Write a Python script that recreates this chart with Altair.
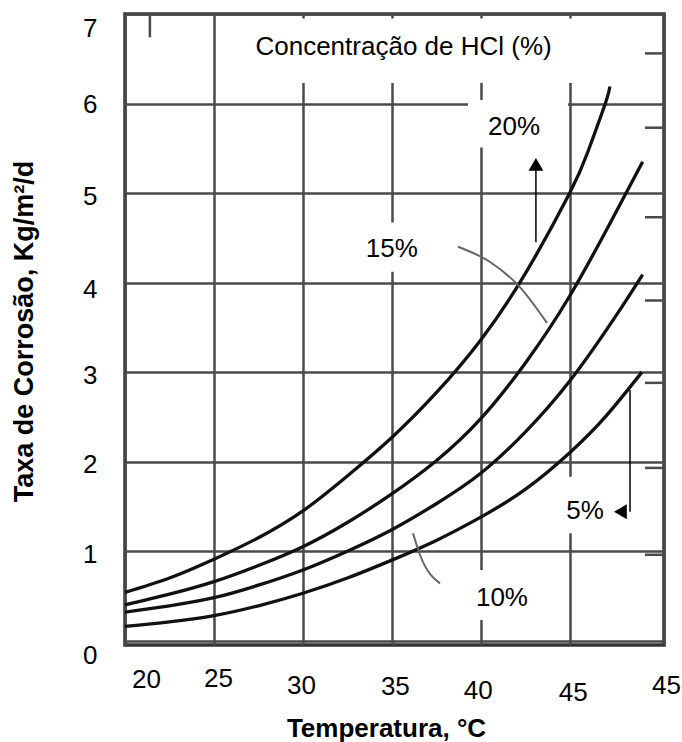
import altair as alt
import pandas as pd

# ---- curve data (Temperatura °C, Taxa de corrosão) ----
temps_20 = [20, 22.5, 25, 27.5, 30, 32.5, 35, 37.5, 40, 42.5, 45, 46, 47, 47.25]
rate_20 = [0.54, 0.70, 0.91, 1.15, 1.45, 1.84, 2.27, 2.77, 3.36, 4.10, 5.0, 5.45, 6.0, 6.19]
temps_15 = [20, 22.5, 25, 27.5, 30, 32.5, 35, 37.5, 40, 42.5, 45, 47.5, 49.1]
rate_15 = [0.40, 0.52, 0.66, 0.84, 1.05, 1.32, 1.64, 2.01, 2.48, 3.10, 3.85, 4.75, 5.35]
temps_10 = [20, 22.5, 25, 27.5, 30, 32.5, 35, 37.5, 40, 42.5, 45, 47.5, 49.1]
rate_10 = [0.32, 0.39, 0.48, 0.62, 0.79, 1.0, 1.24, 1.53, 1.87, 2.33, 2.90, 3.60, 4.09]
temps_5 = [20, 22.5, 25, 27.5, 30, 32.5, 35, 37.5, 40, 42.5, 45, 47, 49.06]
rate_5 = [0.16, 0.21, 0.28, 0.39, 0.53, 0.70, 0.90, 1.12, 1.38, 1.69, 2.10, 2.50, 3.0]

# ---- tick labels ----
x_tick_values = [20, 25, 30, 35, 40, 45, 50.3]
y_tick_values = [0, 1, 2, 3, 4, 5, 6, 7]

# ---- annotation texts and their anchor points (data units) ----
label_text = ["Concentração de HCl (%)", "20%", "15%", "10%", "5%"]
label_x = [35.66, 41.87, 35.0, 41.19, 45.86]
label_y = [6.63, 5.74, 4.37, 0.48, 1.45]

# white boxes behind the labels
box_x1 = [25.79, 39.28, 31.41, 38.55, 44.23]
box_x2 = [45.13, 44.9, 38.72, 44.85, 47.38]
box_y1 = [6.23, 5.51, 4.12, 0.23, 1.20]
box_y2 = [6.95, 6.04, 4.67, 0.79, 1.83]

# leader lines
leader15_x = [38.72, 40.52, 42.2, 43.72]
leader15_y = [4.40, 4.23, 3.95, 3.55]
leader10_x = [36.19, 36.58, 37.71]
leader10_y = [1.20, 0.96, 0.64]

# arrows
arrow_x = [43.1, 48.39]
arrow_y1 = [4.45, 2.80]
arrow_y2 = [5.26, 1.44]
head_x = [43.1, 47.85]
head_y = [5.32, 1.44]
head_shape = ["triangle-up", "triangle-left"]

# short scan tick marks on the frame
rtick_y = [6.56, 5.73, 4.73, 3.80, 2.88, 1.93, 0.96]
rtick_x1 = 49.23
rtick_x2 = 50.3

FONT = "Liberation Sans"
FS = 26

curves = pd.concat([
    pd.DataFrame({"T": temps_20, "v": rate_20, "s": "20%"}),
    pd.DataFrame({"T": temps_15, "v": rate_15, "s": "15%"}),
    pd.DataFrame({"T": temps_10, "v": rate_10, "s": "10%"}),
    pd.DataFrame({"T": temps_5, "v": rate_5, "s": "5%"}),
])
boxes = pd.DataFrame({"x1": box_x1, "x2": box_x2, "y1": box_y1, "y2": box_y2})
labels = pd.DataFrame({"t": label_text, "T": label_x, "v": label_y})
leaders = pd.concat([
    pd.DataFrame({"T": leader15_x, "v": leader15_y, "s": "a"}),
    pd.DataFrame({"T": leader10_x, "v": leader10_y, "s": "b"}),
])
arrows = pd.DataFrame({"T": arrow_x, "v": arrow_y1, "v2": arrow_y2})
heads = pd.DataFrame({"T": head_x, "v": head_y, "shape": head_shape})
rticks = pd.DataFrame({"T": [rtick_x1] * len(rtick_y), "T2": [rtick_x2] * len(rtick_y), "v": rtick_y})
ttick = pd.DataFrame({"T": [21.4], "v": [6.74], "v2": [7.0]})

x_scale = alt.Scale(domain=[20, 50.3], nice=False, zero=False)
y_scale = alt.Scale(domain=[-0.048, 7], nice=False, zero=False)

x_axis = alt.Axis(
    values=x_tick_values,
    labelExpr="datum.value > 50 ? '45' : datum.label",
    grid=True, gridColor="#4a4a4a", gridWidth=2.5,
    ticks=False, domain=False,
    labelFont=FONT, labelFontSize=FS, labelColor="black",
    labelFlush=False, labelOverlap=False,
    labelOffset={"condition": [
        {"test": "datum.value == 20", "value": 21},
        {"test": "datum.value == 25", "value": 4},
        {"test": "datum.value == 30", "value": -2},
        {"test": "datum.value == 35", "value": 3},
        {"test": "datum.value == 40", "value": -3},
        {"test": "datum.value == 45", "value": 3},
    ], "value": 2},
    labelPadding={"condition": [
        {"test": "datum.value == 20", "value": 21},
        {"test": "datum.value == 25", "value": 20},
        {"test": "datum.value == 35", "value": 28},
        {"test": "datum.value == 40", "value": 32},
        {"test": "datum.value == 45", "value": 34},
    ], "value": 27},
    title="Temperatura, °C",
    titleFont=FONT, titleFontSize=26, titleFontWeight="bold", titleColor="black",
    titleX=261, titleY=83, titleAlign="center", titleBaseline="middle",
)
y_axis = alt.Axis(
    values=y_tick_values,
    grid=True, gridColor="#4a4a4a", gridWidth=2.5,
    ticks=False, domain=False,
    labelFont=FONT, labelFontSize=FS, labelColor="black",
    labelFlush=False, labelOverlap=False, labelPadding=28,
    labelOffset={"condition": [
        {"test": "datum.value == 7", "value": 14},
        {"test": "datum.value == 0", "value": 15},
        {"test": "datum.value == 4", "value": 7},
        {"test": "datum.value == 6", "value": 1},
    ], "value": 3},
    title="Taxa de Corrosão, Kg/m²/d",
    titleFont=FONT, titleFontSize=27, titleFontWeight="bold", titleColor="black",
    titleX=-101, titleY=317, titleAngle=270, titleAlign="center", titleBaseline="middle",
)


def X(field):
    return alt.X(field, type="quantitative", scale=x_scale, axis=x_axis)


def Y(field):
    return alt.Y(field, type="quantitative", scale=y_scale, axis=y_axis)


box_layer = alt.Chart(boxes).mark_rect(fill="white").encode(
    x=X("x1"), x2="x2", y=Y("y1"), y2="y2"
)
curve_layer = alt.Chart(curves).mark_line(color="#111111", strokeWidth=3.3, interpolate="natural").encode(
    x=X("T"), y=Y("v"), detail="s:N"
)
leader_layer = alt.Chart(leaders).mark_line(color="#666666", strokeWidth=2, interpolate="monotone").encode(
    x=X("T"), y=Y("v"), detail="s:N"
)
arrow_layer = alt.Chart(arrows).mark_rule(color="black", strokeWidth=1.5).encode(
    x=X("T"), y=Y("v"), y2="v2"
)
head_layer = alt.Chart(heads).mark_point(filled=True, color="black", opacity=1, size=220).encode(
    x=X("T"), y=Y("v"), shape=alt.Shape("shape:N", scale=None)
)
rtick_layer = alt.Chart(rticks).mark_rule(color="#4a4a4a", strokeWidth=2.5).encode(
    x=X("T"), x2="T2", y=Y("v")
)
ttick_layer = alt.Chart(ttick).mark_rule(color="#4a4a4a", strokeWidth=2.5).encode(
    x=X("T"), y=Y("v"), y2="v2"
)
text_layer = alt.Chart(labels).mark_text(font=FONT, fontSize=FS, color="black", align="center", baseline="middle").encode(
    x=X("T"), y=Y("v"), text="t:N"
)

chart = alt.layer(
    box_layer, rtick_layer, ttick_layer, curve_layer, leader_layer, arrow_layer, head_layer, text_layer
).properties(
    width=539, height=631,
    padding={"left": 125, "top": 14, "right": 18, "bottom": 97},
    autosize=alt.AutoSizeParams(type="none"),
    background="white",
).configure_view(stroke="#333333", strokeWidth=3.5)

chart.save("out.html", embed_options={"renderer": "svg", "actions": False})
